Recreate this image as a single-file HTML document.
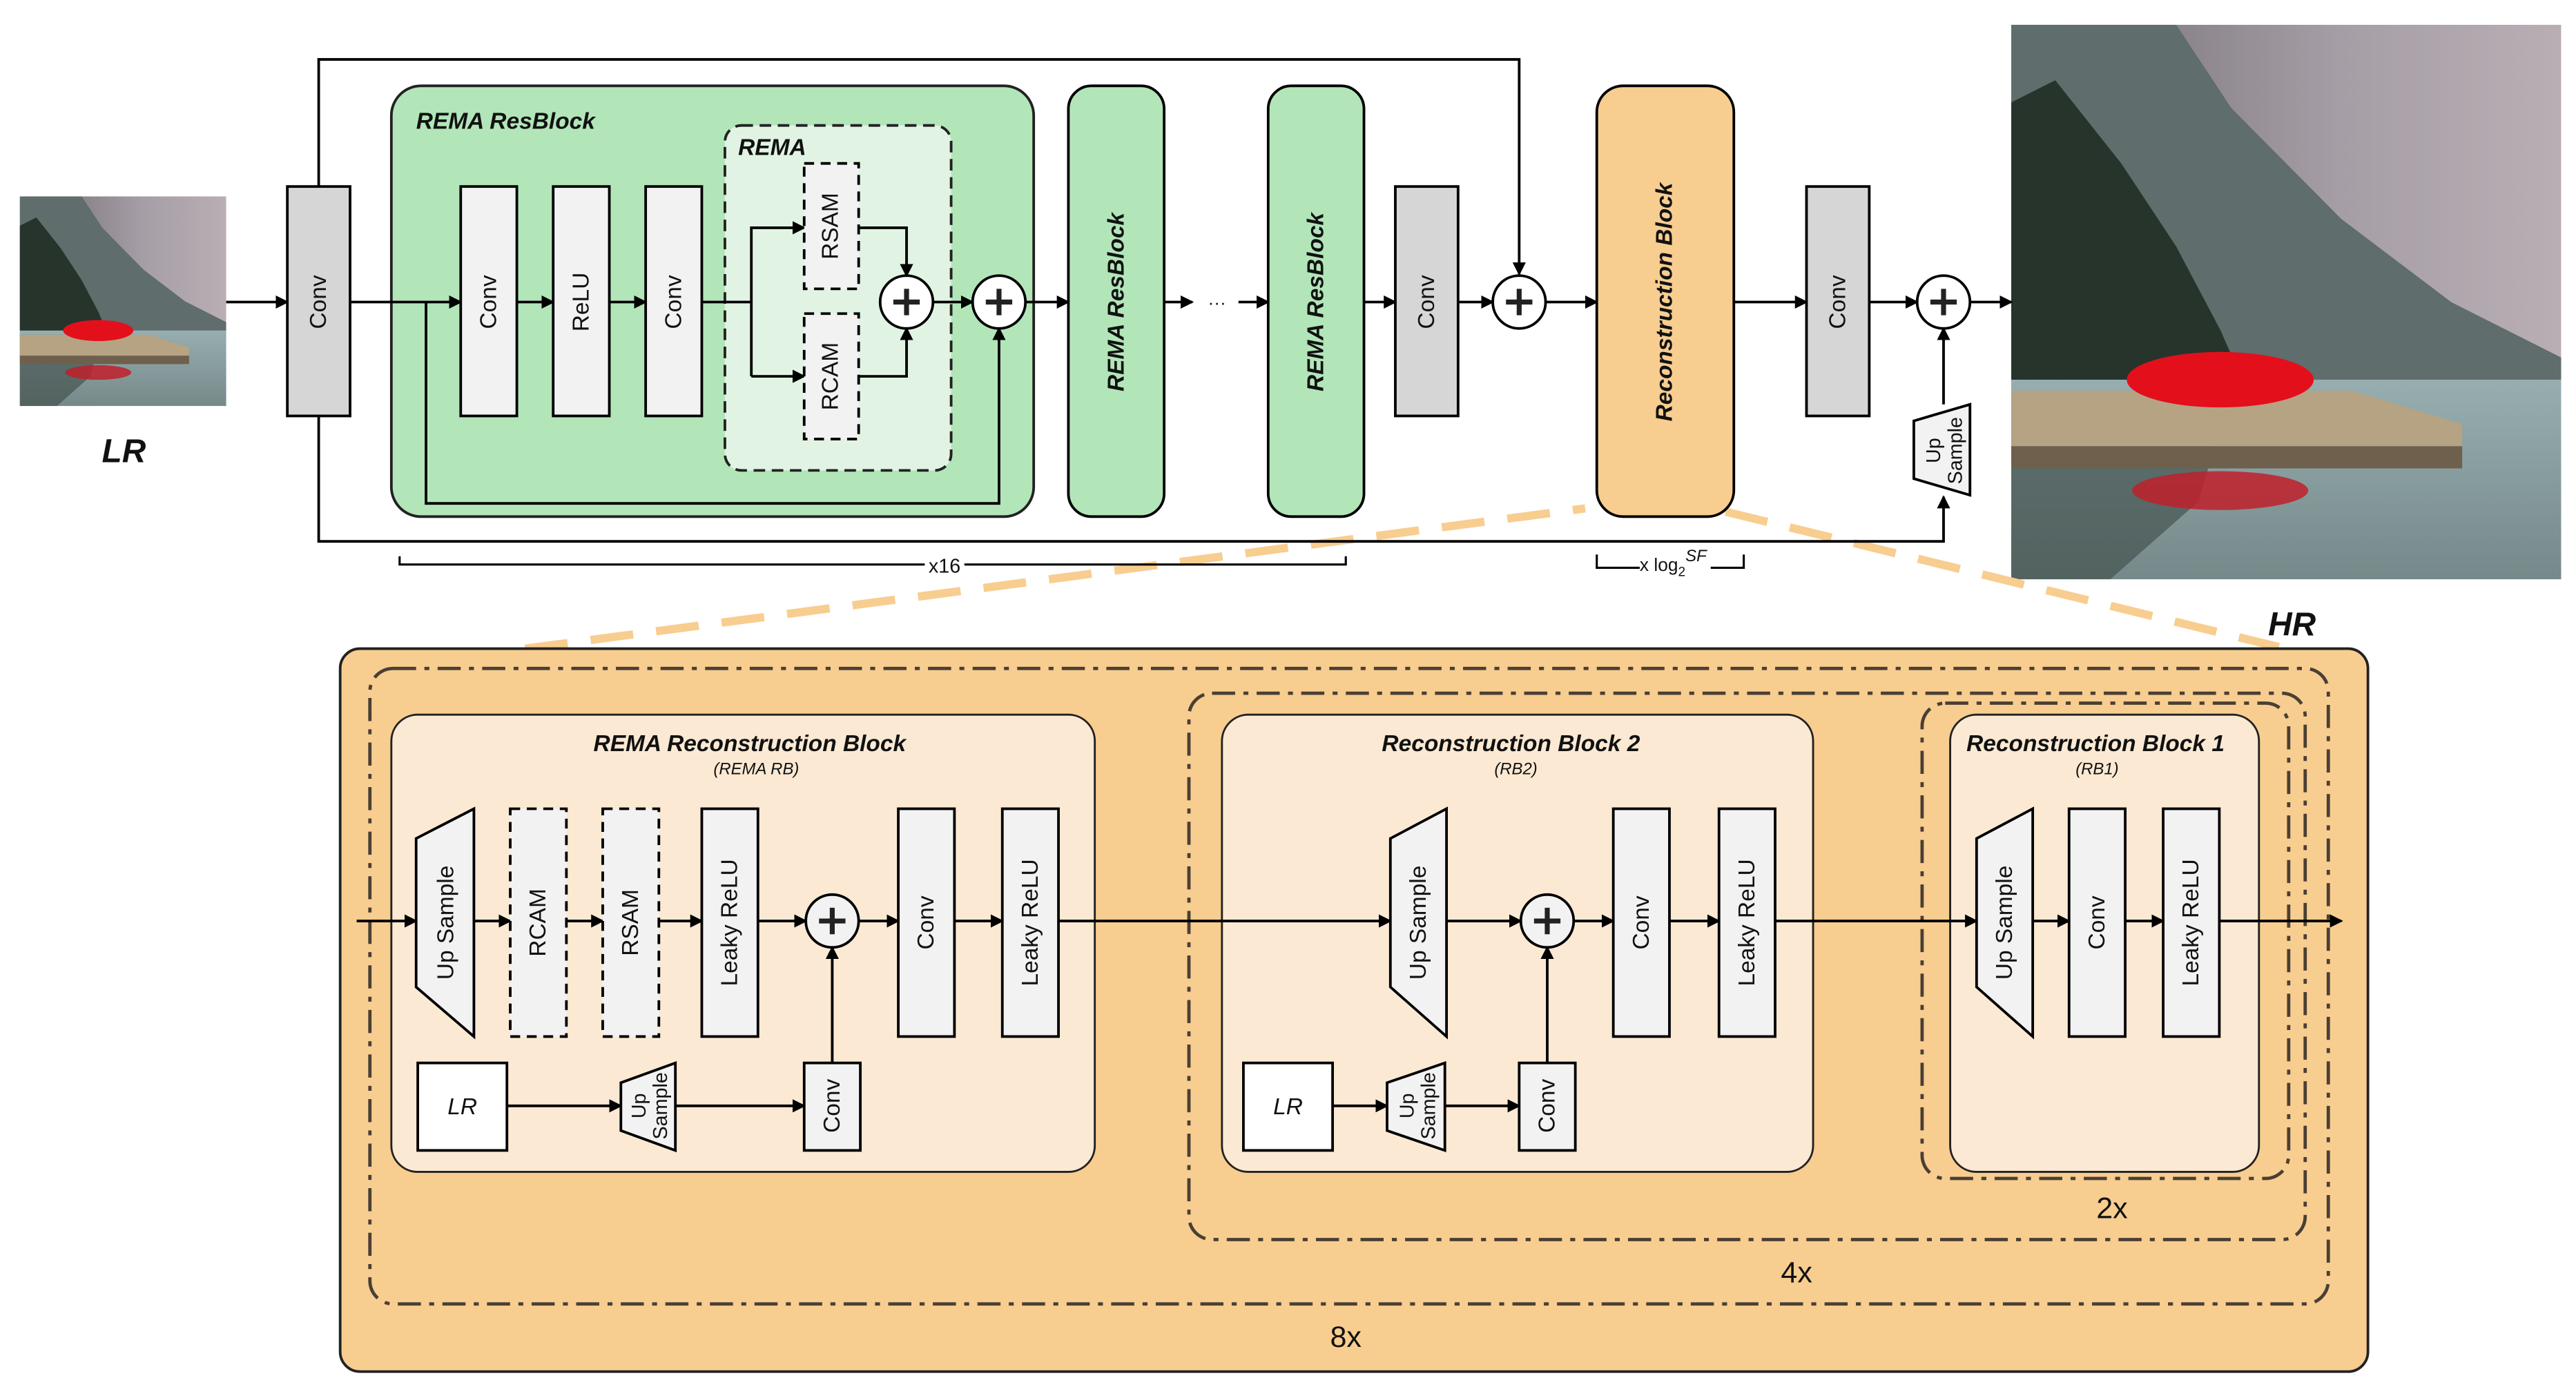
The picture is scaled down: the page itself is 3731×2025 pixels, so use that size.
<!DOCTYPE html>
<html><head><meta charset="utf-8"><style>
html,body{margin:0;padding:0;background:#fff;}
svg{display:block;}
text{font-family:"Liberation Sans",sans-serif;fill:#111;}
.n{font-family:"Liberation Sans Narrow","Liberation Sans",sans-serif;}
</style></head><body>
<svg width="3731" height="2025" viewBox="0 0 1560 847" preserveAspectRatio="none" xmlns="http://www.w3.org/2000/svg">
<defs>
<marker id="a" markerUnits="userSpaceOnUse" markerWidth="8" markerHeight="8" refX="7" refY="4" orient="auto"><path d="M0,0 L8,4 L0,8 Z" fill="#000"/></marker>
<linearGradient id="sky" x1="0" y1="0" x2="1" y2="0"><stop offset="0" stop-color="#6f6a70"/><stop offset="0.6" stop-color="#a69ea6"/><stop offset="1" stop-color="#b9aeb4"/></linearGradient>
<linearGradient id="lake" x1="0" y1="0" x2="0" y2="1"><stop offset="0" stop-color="#97aeb0"/><stop offset="1" stop-color="#76898a"/></linearGradient>
<g id="photo">
<rect x="0" y="0" width="100" height="100" fill="url(#sky)"/>
<polygon points="0,0 30,0 40,15 60,35 80,50 100,60 100,64 0,64" fill="#5f6d6c"/>
<polygon points="0,14 8,10 20,25 30,40 38,55 42,64 0,64" fill="#26342b"/>
<rect x="0" y="64" width="100" height="36" fill="url(#lake)"/>
<polygon points="0,66 40,66 34,86 18,100 0,100" fill="#3a4a44" opacity="0.6"/>
<polygon points="0,66 62,66 82,72 82,76 0,76" fill="#b5a384"/>
<polygon points="0,76 82,76 82,80 0,80" fill="#6e604c"/>
<ellipse cx="38" cy="64" rx="17" ry="5" fill="#e3101c"/>
<ellipse cx="38" cy="84" rx="16" ry="3.5" fill="#c0202a" opacity="0.85"/>
</g>
</defs>

<svg x="12" y="119" width="125" height="127" viewBox="0 0 100 100" preserveAspectRatio="none"><use href="#photo"/></svg>
<svg x="1218" y="15" width="333" height="336" viewBox="0 0 100 100" preserveAspectRatio="none"><use href="#photo"/></svg>

<text x="75" y="280" text-anchor="middle" font-size="20" font-weight="bold" font-style="italic" class="n">LR</text>
<text x="1388" y="385" text-anchor="middle" font-size="20" font-weight="bold" font-style="italic" class="n">HR</text>

<g stroke="#f8cd90" stroke-width="5" stroke-dasharray="26 14" fill="none">
<line x1="318" y1="393" x2="960" y2="308"/>
<line x1="1045" y1="310" x2="1380" y2="392"/>
</g>

<g stroke="#000" stroke-width="1.6" fill="none">
<polyline points="193,113 193,36 920,36 920,166" marker-end="url(#a)"/>
<polyline points="193,252 193,328 1177,328 1177,301" marker-end="url(#a)"/>
</g>

<rect x="237" y="52" width="389" height="261" rx="18" fill="#b2e6b9" stroke="#222" stroke-width="1.6"/>
<text x="252" y="78" font-size="14" font-weight="bold" font-style="italic" class="n">REMA ResBlock</text>
<rect x="439" y="76" width="137" height="209" rx="10" fill="#e1f4e3" stroke="#222" stroke-width="1.6" stroke-dasharray="7 4"/>
<text x="447" y="94" font-size="14" font-weight="bold" font-style="italic" class="n">REMA</text>

<g stroke="#000" stroke-width="1.6" fill="none">
<line x1="137" y1="183" x2="174" y2="183" marker-end="url(#a)"/>
<line x1="212" y1="183" x2="279" y2="183" marker-end="url(#a)"/>
<line x1="313" y1="183" x2="335" y2="183" marker-end="url(#a)"/>
<line x1="369" y1="183" x2="391" y2="183" marker-end="url(#a)"/>
<polyline points="425,183 455,183"/>
<polyline points="455,228 455,138 487,138" marker-end="url(#a)"/>
<polyline points="455,228 487,228" marker-end="url(#a)"/>
<polyline points="520,138 549,138 549,167" marker-end="url(#a)"/>
<polyline points="520,228 549,228 549,199" marker-end="url(#a)"/>
<line x1="565" y1="183" x2="589" y2="183" marker-end="url(#a)"/>
<polyline points="258,183 258,305 605,305 605,199" marker-end="url(#a)"/>
<line x1="621" y1="183" x2="647" y2="183" marker-end="url(#a)"/>
<line x1="705" y1="183" x2="722" y2="183" marker-end="url(#a)"/>
<line x1="750" y1="183" x2="768" y2="183" marker-end="url(#a)"/>
<line x1="826" y1="183" x2="845" y2="183" marker-end="url(#a)"/>
<line x1="883" y1="183" x2="904" y2="183" marker-end="url(#a)"/>
<line x1="936" y1="183" x2="967" y2="183" marker-end="url(#a)"/>
<line x1="1050" y1="183" x2="1094" y2="183" marker-end="url(#a)"/>
<line x1="1132" y1="183" x2="1161" y2="183" marker-end="url(#a)"/>
<line x1="1193" y1="183" x2="1218" y2="183" marker-end="url(#a)"/>
<line x1="1177" y1="245" x2="1177" y2="199" marker-end="url(#a)"/>
</g>
<text x="737" y="187" font-size="11" text-anchor="middle">···</text>

<g stroke="#000" stroke-width="1.6">
<rect x="174" y="113" width="38" height="139" fill="#d6d6d6"/>
<rect x="279" y="113" width="34" height="139" fill="#f2f2f2"/>
<rect x="335" y="113" width="34" height="139" fill="#f2f2f2"/>
<rect x="391" y="113" width="34" height="139" fill="#f2f2f2"/>
<rect x="487" y="99" width="33" height="76" fill="#f2f2f2" stroke-dasharray="6 4"/>
<rect x="487" y="190" width="33" height="76" fill="#f2f2f2" stroke-dasharray="6 4"/>
<rect x="647" y="52" width="58" height="261" rx="14" fill="#b2e6b9"/>
<rect x="768" y="52" width="58" height="261" rx="14" fill="#b2e6b9"/>
<rect x="845" y="113" width="38" height="139" fill="#d6d6d6"/>
<rect x="967" y="52" width="83" height="261" rx="16" fill="#f8cd90"/>
<rect x="1094" y="113" width="38" height="139" fill="#d6d6d6"/>
<polygon points="1159,255 1193,245 1193,300 1159,290" fill="#f2f2f2"/>
</g>

<g stroke="#000" stroke-width="1.6" fill="#fff">
<circle cx="549" cy="183" r="16"/><circle cx="605" cy="183" r="16"/>
<circle cx="920" cy="183" r="16"/><circle cx="1177" cy="183" r="16"/>
</g>
<g stroke="#222" stroke-width="3">
<path d="M541,183h16M549,175v16M597,183h16M605,175v16M912,183h16M920,175v16M1169,183h16M1177,175v16"/>
</g>

<g font-size="14">
<text transform="translate(193,183) rotate(-90)" text-anchor="middle" dominant-baseline="central">Conv</text>
<text transform="translate(296,183) rotate(-90)" text-anchor="middle" dominant-baseline="central">Conv</text>
<text transform="translate(352,183) rotate(-90)" text-anchor="middle" dominant-baseline="central">ReLU</text>
<text transform="translate(408,183) rotate(-90)" text-anchor="middle" dominant-baseline="central">Conv</text>
<text transform="translate(503,137) rotate(-90)" text-anchor="middle" dominant-baseline="central">RSAM</text>
<text transform="translate(503,228) rotate(-90)" text-anchor="middle" dominant-baseline="central">RCAM</text>
<text transform="translate(864,183) rotate(-90)" text-anchor="middle" dominant-baseline="central">Conv</text>
<text transform="translate(1113,183) rotate(-90)" text-anchor="middle" dominant-baseline="central">Conv</text>
<text transform="translate(676,183) rotate(-90)" text-anchor="middle" dominant-baseline="central" font-weight="bold" font-style="italic">REMA ResBlock</text>
<text transform="translate(797,183) rotate(-90)" text-anchor="middle" dominant-baseline="central" font-weight="bold" font-style="italic">REMA ResBlock</text>
<text transform="translate(1008,183) rotate(-90)" text-anchor="middle" dominant-baseline="central" font-weight="bold" font-style="italic">Reconstruction Block</text>
<text transform="translate(1176,273) rotate(-90)" text-anchor="middle" font-size="12"><tspan x="0" dy="-1">Up</tspan><tspan x="0" dy="13">Sample</tspan></text>
</g>

<g stroke="#000" stroke-width="1.3" fill="none">
<polyline points="242,337 242,342 560,342"/><polyline points="584,342 815,342 815,337"/>
<polyline points="967,336 967,344 993,344"/><polyline points="1036,344 1056,344 1056,336"/>
</g>
<text x="572" y="347" font-size="12" text-anchor="middle" class="n">x16</text>
<text x="993" y="346" font-size="11" class="n">x log<tspan font-size="8" dy="3">2</tspan><tspan font-size="10" dy="-9" font-style="italic">SF</tspan></text>

<rect x="206" y="393" width="1228" height="438" rx="12" fill="#f8cd90" stroke="#222" stroke-width="1.6"/>
<g fill="none" stroke="#4a3f33" stroke-width="2" stroke-dasharray="14 5 3 5">
<rect x="224" y="405" width="1186" height="385" rx="14"/>
<rect x="720" y="420" width="676" height="331" rx="14"/>
<rect x="1164" y="426" width="222" height="288" rx="14"/>
</g>
<text x="815" y="816" font-size="18" text-anchor="middle" class="n">8x</text>
<text x="1088" y="777" font-size="18" text-anchor="middle" class="n">4x</text>
<text x="1279" y="738" font-size="18" text-anchor="middle" class="n">2x</text>

<g fill="#fbe9d3" stroke="#222" stroke-width="1.2">
<rect x="237" y="433" width="426" height="277" rx="16"/>
<rect x="740" y="433" width="358" height="277" rx="16"/>
<rect x="1181" y="433" width="187" height="277" rx="16"/>
</g>
<g font-weight="bold" font-style="italic" font-size="14" text-anchor="middle" class="n">
<text x="454" y="455">REMA Reconstruction Block</text>
<text x="915" y="455">Reconstruction Block 2</text>
<text x="1269" y="455">Reconstruction Block 1</text>
</g>
<g font-style="italic" font-size="10" text-anchor="middle" class="n">
<text x="458" y="469">(REMA RB)</text>
<text x="918" y="469">(RB2)</text>
<text x="1270" y="469">(RB1)</text>
</g>

<g stroke="#000" stroke-width="1.6" fill="none">
<line x1="216" y1="558" x2="252" y2="558" marker-end="url(#a)"/>
<line x1="287" y1="558" x2="309" y2="558" marker-end="url(#a)"/>
<line x1="343" y1="558" x2="365" y2="558" marker-end="url(#a)"/>
<line x1="399" y1="558" x2="425" y2="558" marker-end="url(#a)"/>
<line x1="459" y1="558" x2="488" y2="558" marker-end="url(#a)"/>
<line x1="520" y1="558" x2="544" y2="558" marker-end="url(#a)"/>
<line x1="578" y1="558" x2="607" y2="558" marker-end="url(#a)"/>
<line x1="641" y1="558" x2="842" y2="558" marker-end="url(#a)"/>
<line x1="307" y1="670" x2="376" y2="670" marker-end="url(#a)"/>
<line x1="409" y1="670" x2="487" y2="670" marker-end="url(#a)"/>
<line x1="504" y1="644" x2="504" y2="574" marker-end="url(#a)"/>
<line x1="876" y1="558" x2="921" y2="558" marker-end="url(#a)"/>
<line x1="953" y1="558" x2="977" y2="558" marker-end="url(#a)"/>
<line x1="1011" y1="558" x2="1041" y2="558" marker-end="url(#a)"/>
<line x1="1075" y1="558" x2="1197" y2="558" marker-end="url(#a)"/>
<line x1="807" y1="670" x2="840" y2="670" marker-end="url(#a)"/>
<line x1="875" y1="670" x2="920" y2="670" marker-end="url(#a)"/>
<line x1="937" y1="644" x2="937" y2="574" marker-end="url(#a)"/>
<line x1="1231" y1="558" x2="1253" y2="558" marker-end="url(#a)"/>
<line x1="1287" y1="558" x2="1310" y2="558" marker-end="url(#a)"/>
<line x1="1344" y1="558" x2="1418" y2="558" marker-end="url(#a)"/>
</g>

<g stroke="#000" stroke-width="1.6" fill="#f2f2f2">
<polygon points="252,508 287,490 287,628 252,598"/>
<rect x="309" y="490" width="34" height="138" stroke-dasharray="6 4"/>
<rect x="365" y="490" width="34" height="138" stroke-dasharray="6 4"/>
<rect x="425" y="490" width="34" height="138"/>
<rect x="544" y="490" width="34" height="138"/>
<rect x="607" y="490" width="34" height="138"/>
<rect x="253" y="644" width="54" height="53" fill="#fff"/>
<polygon points="376,656 409,644 409,697 376,685"/>
<rect x="487" y="644" width="34" height="53"/>
<polygon points="842,508 876,490 876,628 842,598"/>
<rect x="977" y="490" width="34" height="138"/>
<rect x="1041" y="490" width="34" height="138"/>
<rect x="753" y="644" width="54" height="53" fill="#fff"/>
<polygon points="840,656 875,644 875,697 840,685"/>
<rect x="920" y="644" width="34" height="53"/>
<polygon points="1197,508 1231,490 1231,628 1197,598"/>
<rect x="1253" y="490" width="34" height="138"/>
<rect x="1310" y="490" width="34" height="138"/>
<circle cx="504" cy="558" r="16"/><circle cx="937" cy="558" r="16"/>
</g>
<g stroke="#222" stroke-width="3">
<path d="M496,558h16M504,550v16M929,558h16M937,550v16"/>
</g>

<g font-size="14">
<text transform="translate(270,559) rotate(-90)" text-anchor="middle" dominant-baseline="central">Up Sample</text>
<text transform="translate(326,559) rotate(-90)" text-anchor="middle" dominant-baseline="central">RCAM</text>
<text transform="translate(382,559) rotate(-90)" text-anchor="middle" dominant-baseline="central">RSAM</text>
<text transform="translate(442,559) rotate(-90)" text-anchor="middle" dominant-baseline="central">Leaky ReLU</text>
<text transform="translate(561,559) rotate(-90)" text-anchor="middle" dominant-baseline="central">Conv</text>
<text transform="translate(624,559) rotate(-90)" text-anchor="middle" dominant-baseline="central">Leaky ReLU</text>
<text transform="translate(504,670) rotate(-90)" text-anchor="middle" dominant-baseline="central">Conv</text>
<text x="280" y="675" text-anchor="middle" font-style="italic" class="n">LR</text>
<text transform="translate(392,670) rotate(-90)" text-anchor="middle" font-size="12"><tspan x="0" dy="-1">Up</tspan><tspan x="0" dy="13">Sample</tspan></text>
<text transform="translate(859,559) rotate(-90)" text-anchor="middle" dominant-baseline="central">Up Sample</text>
<text transform="translate(994,559) rotate(-90)" text-anchor="middle" dominant-baseline="central">Conv</text>
<text transform="translate(1058,559) rotate(-90)" text-anchor="middle" dominant-baseline="central">Leaky ReLU</text>
<text transform="translate(937,670) rotate(-90)" text-anchor="middle" dominant-baseline="central">Conv</text>
<text x="780" y="675" text-anchor="middle" font-style="italic" class="n">LR</text>
<text transform="translate(857,670) rotate(-90)" text-anchor="middle" font-size="12"><tspan x="0" dy="-1">Up</tspan><tspan x="0" dy="13">Sample</tspan></text>
<text transform="translate(1214,559) rotate(-90)" text-anchor="middle" dominant-baseline="central">Up Sample</text>
<text transform="translate(1270,559) rotate(-90)" text-anchor="middle" dominant-baseline="central">Conv</text>
<text transform="translate(1327,559) rotate(-90)" text-anchor="middle" dominant-baseline="central">Leaky ReLU</text>
</g>
</svg>
</body></html>
